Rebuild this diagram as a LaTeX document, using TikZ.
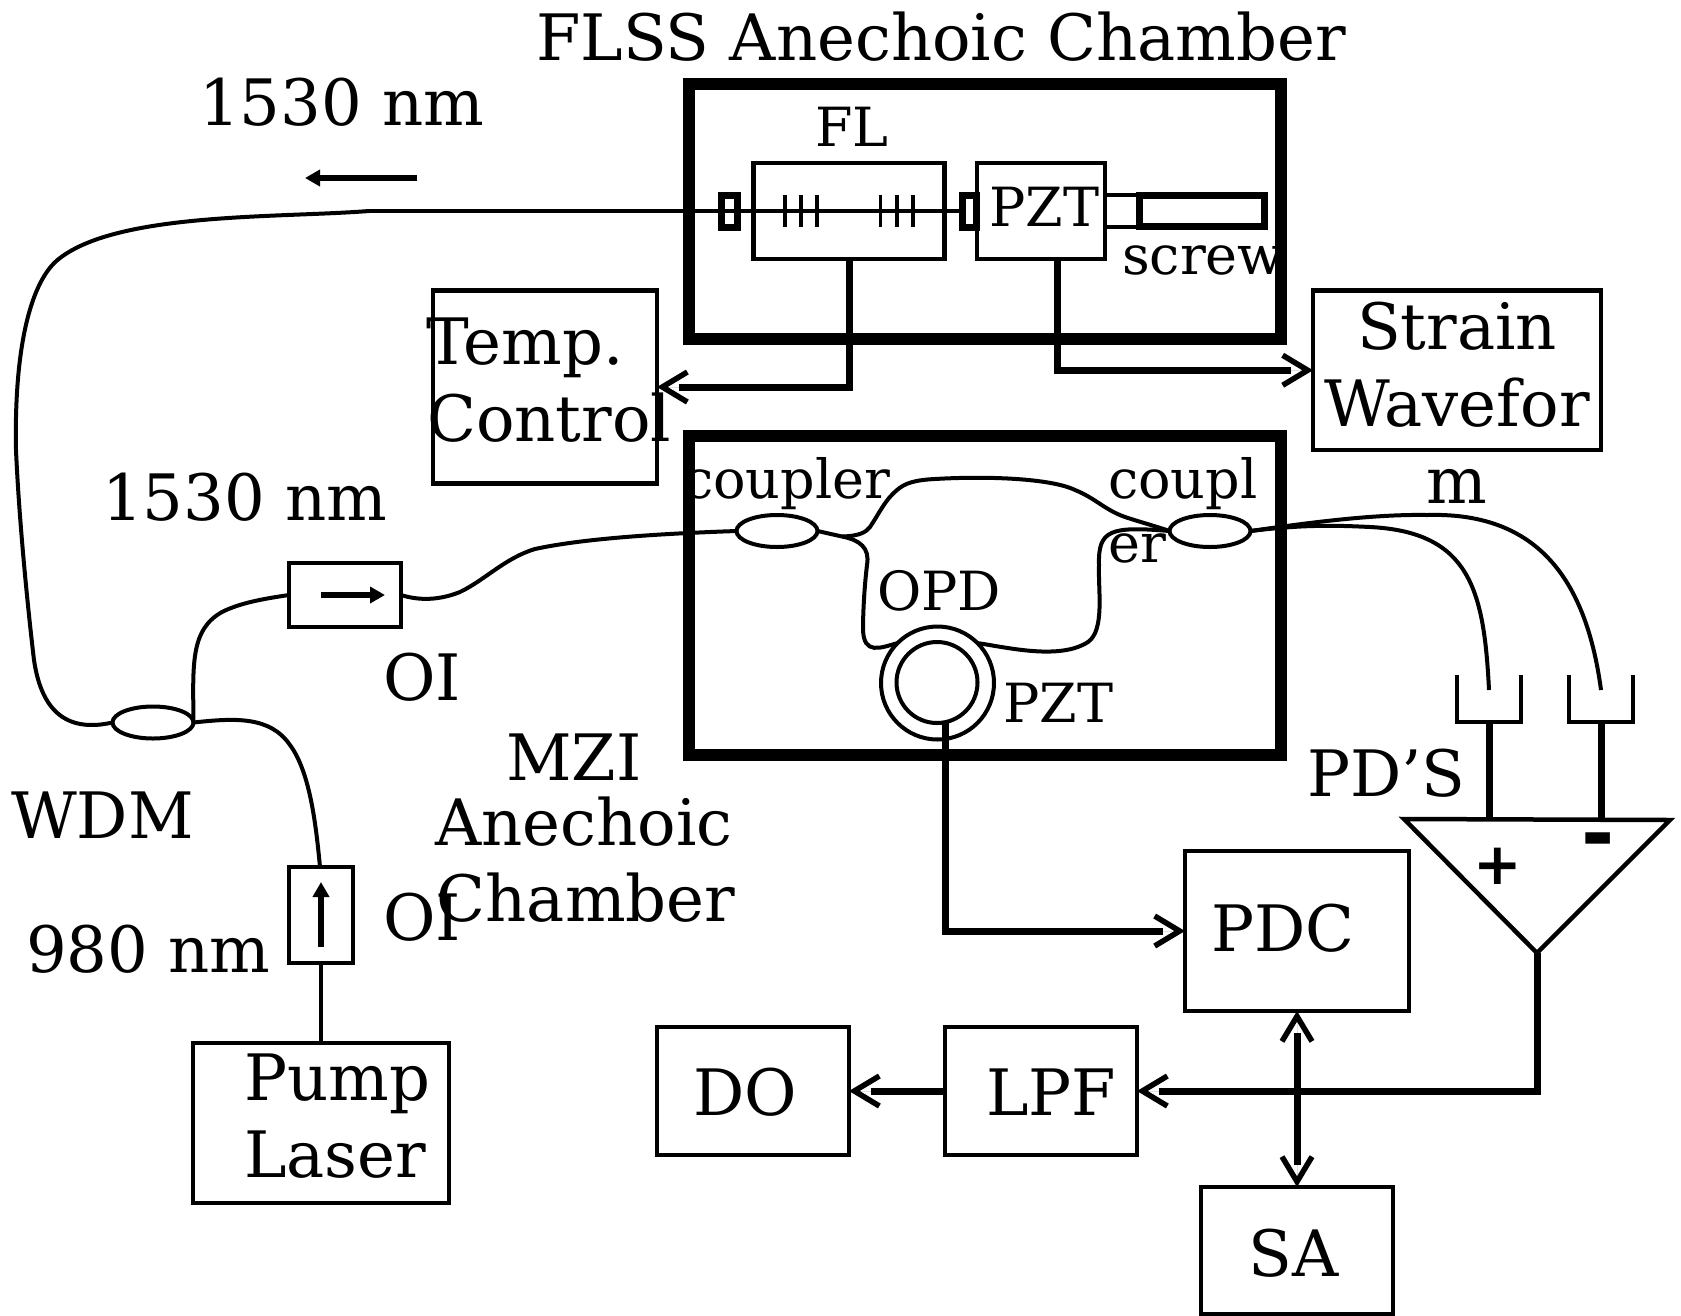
\documentclass[tikz,border=0pt]{standalone}
\usepackage{fontspec}
\setmainfont{DejaVu Serif}
\newfontfamily\signfont{DejaVu Sans}
\usetikzlibrary{arrows.meta,shapes.geometric}
\tikzset{
  boxn/.style={draw,line width=4.5pt,rectangle,inner sep=0pt,outer sep=0pt},
  holder/.style={boxn,line width=7pt},
  chamber/.style={boxn,line width=12.5pt},
  coupl/.style={draw,line width=4pt,ellipse,inner sep=0pt,outer sep=0pt,minimum width=81pt,minimum height=32pt},
  ringn/.style={draw,line width=4pt,circle,inner sep=0pt,outer sep=0pt},
  fiber/.style={line width=4pt},
  thinl/.style={line width=3.5pt},
  wire/.style={line width=7pt},
  barbtip/.tip={Straight Barb[length=25pt,width=30pt,line width=5.5pt]},
  barb/.style={line width=0.01pt,-{barbtip},preaction={draw,wire,arrows=-,shorten >=22pt}},
  dbarb/.style={line width=0.01pt,{barbtip}-{barbtip},preaction={draw,wire,arrows=-,shorten >=22pt,shorten <=22pt}},
  solidarrow/.style={line width=5.5pt,-{Triangle[length=15pt,width=16pt]}},
  big/.style={inner sep=0pt,anchor=base west,font=\fontsize{64}{64}\selectfont},
  bigc/.style={inner sep=0pt,anchor=base,font=\fontsize{64}{64}\selectfont},
  small/.style={inner sep=0pt,anchor=base west,font=\fontsize{54}{54}\selectfont},
}
\begin{document}
\begin{tikzpicture}[x=1pt,y=-1pt]
\useasboundingbox (0,0) rectangle (1681,1315);
% labels
\node[big] (ttitle) at (536,60) {FLSS Anechoic Chamber};
\node[big] (tnma) at (199,125) {1530 nm};
\node[small] (tfl) at (815,146) {FL};
\node[small] (tpzta) at (989,226) {PZT};
\node[small] (tscrew) at (1122,274) {screw};
\node[big] (ttemp) at (426,364) {Temp.};
\node[big] (tcontrol) at (427,441) {Control};
\node[bigc] (tstrain) at (1457,349) {Strain};
\node[bigc] (twave) at (1457,426) {Wavefor};
\node[bigc] (tm) at (1457,503) {m};
\node[big] (tnmb) at (102,520) {1530 nm};
\node[big] (toia) at (383,700) {OI};
\node[big] (twdm) at (11,838) {WDM};
\node[big] (tnmc) at (26,972) {980 nm};
\node[big] (toib) at (383,940) {OI};
\node[bigc] (tmzi) at (574,780) {MZI};
\node[bigc] (tane) at (584,845) {Anechoic};
\node[bigc] (tcham) at (586,921) {Chamber};
\node[big] (tpump) at (244,1100) {Pump};
\node[big] (tlaser) at (244,1177) {Laser};
\node[small] (tcoupa) at (683,498) {coupler};
\node[small] (tcoupb) at (1108,498) {coupl};
\node[small] (ter) at (1108,562) {er};
\node[small] (topd) at (877,610) {OPD};
\node[small] (tpztb) at (1003,722) {PZT};
\node[big] (tpds) at (1307,796) {PD’S};
\node[big] (tpdc) at (1211,951) {PDC};
\node[big] (tdo) at (693,1115) {DO};
\node[big] (tlpf) at (986,1115) {LPF};
\node[big] (tsa) at (1248,1276) {SA};
\node[inner sep=0pt,font=\signfont\bfseries\fontsize{58}{58}\selectfont] (tplus) at (1498,866) {+};
\node[inner sep=0pt,font=\signfont\bfseries\fontsize{80}{80}\selectfont] (tminus) at (1598,847) {-};
% chambers
\node[chamber,minimum width=592pt,minimum height=255pt] (flss) at (985,211.5) {};
\node[chamber,minimum width=592pt,minimum height=319pt] (mzi) at (985,595.5) {};
% boxes
\node[boxn,minimum width=191pt,minimum height=96pt] (fl) at (849,211) {};
\node[boxn,minimum width=128pt,minimum height=96pt] (pzta) at (1041,211) {};
\node[boxn,minimum width=224pt,minimum height=193pt] (temp) at (545,387) {};
\node[boxn,minimum width=288pt,minimum height=159.5pt] (strain) at (1457,370.25) {};
\node[boxn,minimum width=112pt,minimum height=64pt] (oia) at (345,595) {};
\node[boxn,minimum width=64pt,minimum height=96pt] (oib) at (321,915) {};
\node[boxn,minimum width=256pt,minimum height=160pt] (pump) at (321,1123) {};
\node[boxn,minimum width=224pt,minimum height=160pt] (pdc) at (1297,931) {};
\node[boxn,minimum width=192pt,minimum height=128pt] (lpf) at (1041,1091) {};
\node[boxn,minimum width=192pt,minimum height=128pt] (do) at (753,1091) {};
\node[boxn,minimum width=192pt,minimum height=127pt] (sa) at (1297,1250.5) {};
\node[holder,minimum width=16pt,minimum height=32pt] (hola) at (729,211) {};
\node[holder,minimum width=14pt,minimum height=32pt] (holb) at (969,211) {};
\node[holder,minimum width=125pt,minimum height=31pt] (screw) at (1201.5,211) {};
% couplers and ring
\node[coupl] (wdm) at (153,722.5) {};
\node[coupl] (ca) at (777,531) {};
\node[coupl] (cb) at (1210,531) {};
\node[ringn,minimum size=113pt] (ring) at (937.5,683) {};
\node[ringn,minimum size=81pt] (ringin) at (937,682.5) {};
% fibre ends
\coordinate (fstart) at (369,211);
\coordinate (split) at (842,536.5);
\coordinate (cupP) at (1489,722);
\coordinate (cupM) at (1601,722);
\coordinate (inP) at (1489,690);
\coordinate (inM) at (1601,690);
\coordinate (ampL) at (1404,819);
\coordinate (ampR) at (1670,820);
\coordinate (apex) at (1537,953);
\coordinate (ampP) at (1489,818);
\coordinate (ampM) at (1601,818);
\coordinate (arrA) at (417,178);
\coordinate (arrAe) at (305,178);
% fibres
\draw[fiber] (fstart) -- (holb.west);
\draw[fiber] (fstart) .. controls (280,218) and (120,212) .. (60,258)
  .. controls (30,280) and (14,350) .. (16,450)
  .. controls (19,520) and (28,610) .. (34,660)
  .. controls (42,715) and (70,732) .. (wdm.west);
\draw[fiber] (wdm.east) .. controls (193,665) and (190,630) .. (222,612)
  .. controls (240,603) and (262,599) .. (oia.west);
\draw[fiber] (wdm.east) .. controls (235,718) and (270,716) .. (290,745)
  .. controls (310,772) and (316,825) .. (320,867);
\draw[fiber] (oib.south) -- (pump.north);
\draw[fiber] (oia.east) .. controls (420,601) and (440,600) .. (460,592)
  .. controls (485,580) and (505,558) .. (535,549)
  .. controls (590,537) and (680,533) .. (ca.west);
\draw[fiber] (ca.east) -- (split);
\draw[fiber] (split) .. controls (860,536) and (866,532) .. (870,527)
  .. controls (880,512) and (885,500) .. (897,490)
  .. controls (905,483) and (915,480) .. (935,479)
  .. controls (985,476) and (1050,478) .. (1075,490)
  .. controls (1095,498) and (1105,510) .. (1125,517)
  .. controls (1140,522) and (1155,526) .. (cb.west);
\draw[fiber] (split) .. controls (860,540) and (870,548) .. (867,565)
  .. controls (864,590) and (863,615) .. (863,630)
  .. controls (864,655) and (880,648) .. (ring.135);
\draw[fiber] (ring.45) .. controls (1010,648) and (1060,660) .. (1088,642)
  .. controls (1105,630) and (1098,590) .. (1099,565)
  .. controls (1098,530) and (1110,526) .. (cb.west);
\draw[fiber] (cb.east) .. controls (1300,524) and (1370,514) .. (1427,515)
  .. controls (1530,512) and (1585,570) .. (inM);
\draw[fiber] (cb.east) .. controls (1300,525) and (1330,525) .. (1370,527)
  .. controls (1470,532) and (1484,590) .. (inP);
% grating marks
\foreach \n/\gx in {ga/785,gb/801,gc/817,gd/880.5,ge/897,gf/913}{
  \coordinate (\n t) at (\gx,195);
  \coordinate (\n b) at (\gx,227);
  \draw[line width=3.5pt] (\n t) -- (\n b);
}
% screw link
\draw[thinl] (pzta.east |- 0,195) -- (screw.west |- 0,195);
\draw[thinl] (pzta.east |- 0,227) -- (screw.west |- 0,227);
% small arrows
\draw[solidarrow] (arrA) -- (arrAe);
\coordinate (aa) at (321,595);
\coordinate (ab) at (385,595);
\draw[solidarrow] (aa) -- (ab);
\coordinate (ac) at (321,947);
\coordinate (ad) at (321,882);
\draw[solidarrow] (ac) -- (ad);
% electrical
\draw[barb] (fl.south) |- (temp.east);
\draw[barb] ([xshift=16pt]pzta.south) |- (strain.west);
\draw[barb] ([xshift=8pt]ringin.south) |- (pdc.west);
\draw[barb] (apex) |- (lpf.east);
\draw[barb] (lpf.west) -- (do.east);
\draw[dbarb] (pdc.south) -- (sa.north);
% photodiodes
\draw[line width=4pt] (1457,675) -- (1457,722) -- (1521,722) -- (1521,675);
\draw[line width=4pt] (1569,675) -- (1569,722) -- (1633,722) -- (1633,675);
\draw[wire] (cupP) -- (ampP);
\draw[wire] (cupM) -- (ampM);
% amplifier
\draw[line width=4.5pt,miter limit=10] (ampL) -- (ampR) -- (apex) -- cycle;
\end{tikzpicture}
\end{document}
